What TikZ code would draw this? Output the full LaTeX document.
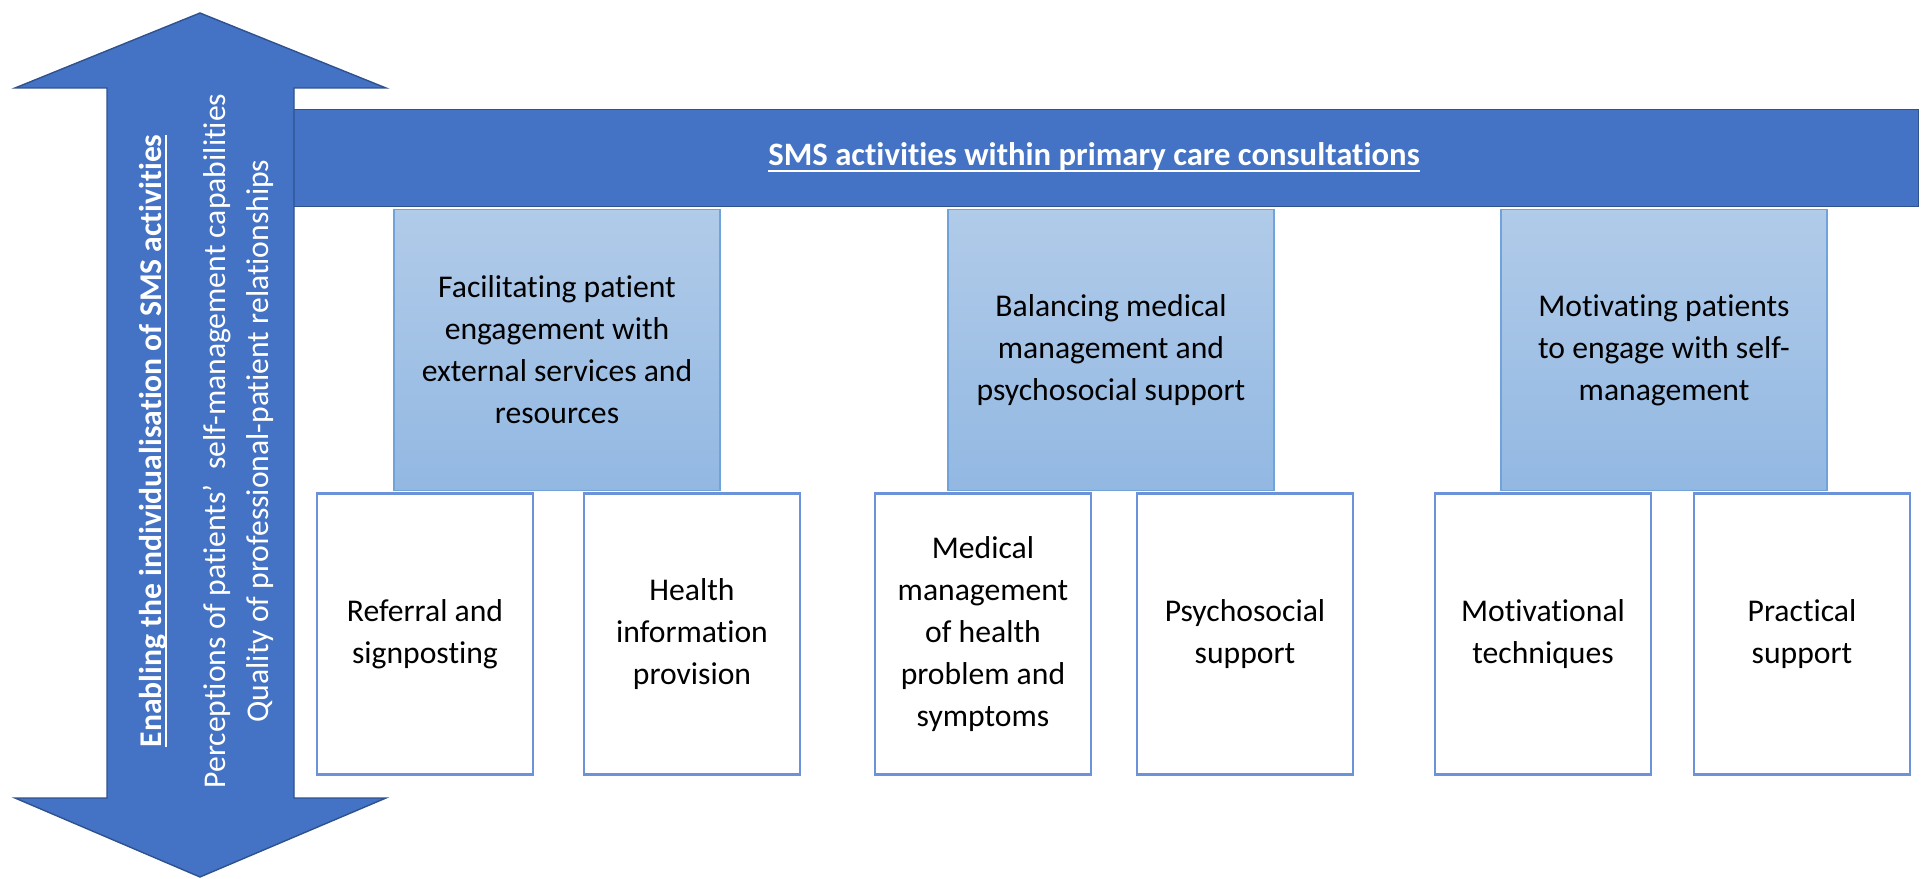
\documentclass[tikz,border=0pt]{standalone}
\usepackage{fontspec}
\setmainfont{Carlito}[Ligatures={TeX,NoCommon}]
\usepackage{tikz}

\definecolor{smsblue}{HTML}{4472C4}
\definecolor{smsedge}{HTML}{2F528F}
\definecolor{themetop}{HTML}{B1CBE9}
\definecolor{themebot}{HTML}{92B8E2}
\definecolor{themeedge}{HTML}{6FA3DA}
\definecolor{actedge}{HTML}{6C93DA}

\newcommand{\smsfont}{\fontsize{9}{11.95}\selectfont}
% underline drawn just under the baseline, through the descenders
\newcommand{\smsul}[1]{\underline{\smash{#1}}\vphantom{#1}}

\tikzset{
  banner/.style = {draw=smsedge, line width=0.4pt, fill=smsblue, text=white,
                   font=\fontsize{9.3}{12}\selectfont},
  theme/.style = {draw=themeedge, line width=0.5pt, top color=themetop,
                  bottom color=themebot, minimum width=3.26cm,
                  minimum height=2.81cm, align=center, font=\smsfont},
  activity/.style = {draw=actedge, line width=0.7pt, fill=white,
                     minimum width=2.16cm, minimum height=2.81cm,
                     align=center, font=\smsfont}
}

\begin{document}
\begin{tikzpicture}[x=0.01cm, y=-0.01cm]
\useasboundingbox (0,0) rectangle (1924,879);

% top bar
\node[banner, minimum width=16.48cm, minimum height=0.97cm] (sms) at (1094,158)
  {\smsul{\textbf{SMS activities within primary care consultations}}};

% two-headed arrow on the left
\draw[draw=smsedge, line width=0.4pt, fill=smsblue]
  (200,13) -- (386,88) -- (294,88) -- (294,798) -- (386,798) -- (200,877)
  -- (15,798) -- (107,798) -- (107,88) -- (15,88) -- cycle;
\node (enabling) at (206,441) [rotate=90, align=center, text=white, font=\smsfont, inner sep=0pt]
  {\smsul{\textbf{Enabling the individualisation of SMS activities}}\\[6.5pt]
   Perceptions of patients’\ \ self-management capabilities\\
   Quality of professional-patient relationships};

% three themes
\node[theme] (facilitating) at (557,350)
  {Facilitating patient\\ engagement with\\ external services and\\ resources};
\node[theme] (balancing) at (1111,350)
  {Balancing medical\\ management and\\ psychosocial support};
\node[theme] (motivating) at (1664,350)
  {Motivating patients\\ to engage with self-\\ management};

% activities under each theme
\node[activity] (referral) at (425,634) {Referral and\\ signposting};
\node[activity] (information) at (692,634) {Health\\ information\\ provision};
\node[activity] (medical) at (983,634)
  {Medical\\ management\\ of health\\ problem and\\ symptoms};
\node[activity] (psychosocial) at (1245,634) {Psychosocial\\ support};
\node[activity] (techniques) at (1543,634) {Motivational\\ techniques};
\node[activity] (practical) at (1802,634) {Practical\\ support};
\end{tikzpicture}
\end{document}
